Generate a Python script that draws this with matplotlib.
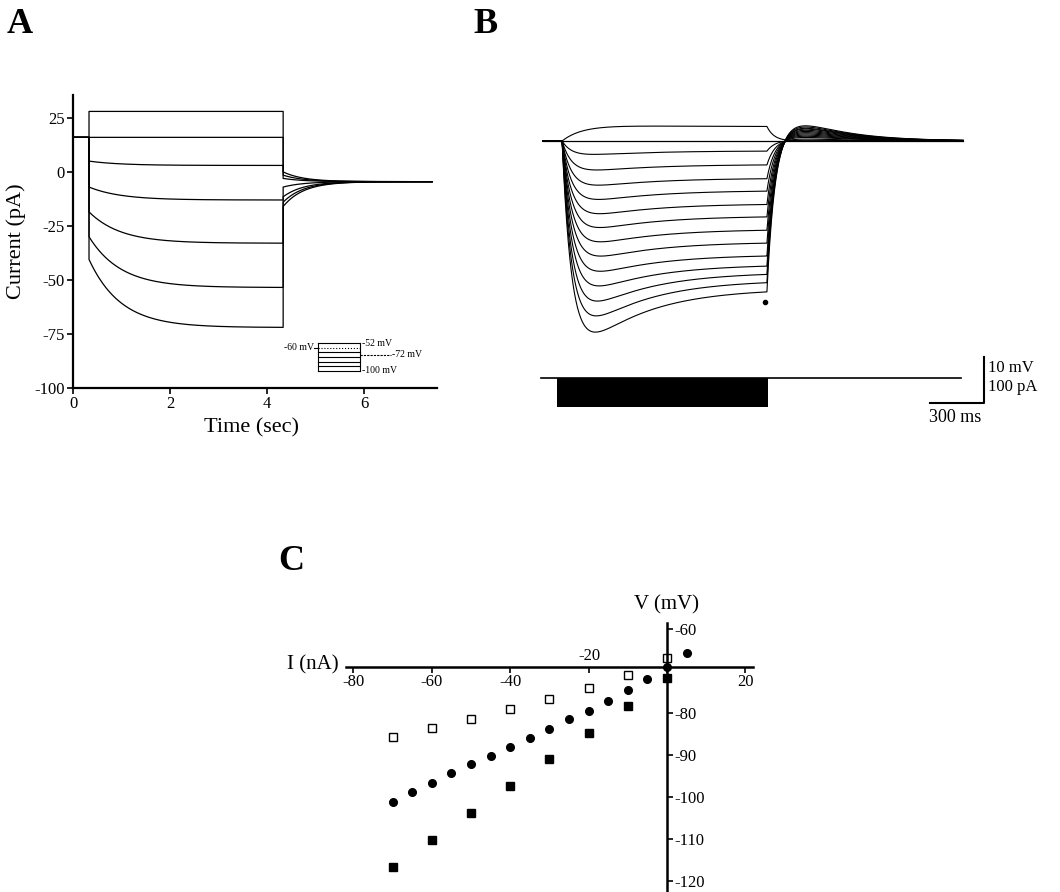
import numpy as np
import matplotlib.pyplot as plt

plt.rcParams['font.family'] = ['Liberation Serif', 'DejaVu Serif']
plt.rcParams['axes.unicode_minus'] = False

W, H = 1060, 892

# ---- panel A: current traces (pA) during voltage steps
a_t_on, a_t_off, a_t_end = 0.33, 4.33, 7.4  # sec
a_hold = 16
a_step_start = [28, 16, 5, -7, -18.5, -30, -40.5]
a_step_end = [28, 16, 3, -13, -33, -53.5, -72]
a_tail_start = [0, -1.5, -3, -7, -11.5, -14, -16]
a_tail_end = -4.5
a_protocol_mV = [-52, -60, -68, -76, -84, -92, -100]

# ---- panel B: voltage responses (mV, relative to rest)
b_t_on, b_t_off, b_t_end = 95, 1233, 2324  # ms
b_dep_plateau = 3.5
b_min = [-2.9, -6.3, -9.6, -12.7, -15.8, -18.8, -21.9, -25.0, -28.3, -31.5, -34.8, -38.0, -41.5]
b_end = [-2.2, -5.2, -8.2, -10.9, -13.8, -16.5, -19.4, -22.2, -25.0, -27.2, -29.0, -30.8, -32.8]
b_rebound = [0.2, 0.5, 0.9, 1.2, 1.5, 1.8, 2.1, 2.4, 2.7, 3.0, 3.2, 3.5, 3.8]
b_stim_pA = [0, -5, -9, -14, -18, -23, -27, -32, -36, -41, -45, -50, -54, -59, -63]
b_dot = (1223, -35.0)

# ---- panel C: I-V relations
c_open_v = [-70, -60, -50, -40, -30, -20, -10, 0]
c_open_i = [-85.7, -83.6, -81.4, -79.0, -76.7, -74.0, -71.0, -66.9]
c_circ_v = [-70, -65, -60, -55, -50, -45, -40, -35, -30, -25, -20, -15, -10, -5, 0, 5]
c_circ_i = [-101.2, -98.8, -96.7, -94.3, -92.1, -90.2, -88.1, -86.0, -83.8, -81.4,
            -79.5, -77.1, -74.5, -71.9, -69.0, -65.7]
c_fill_v = [-70, -60, -50, -40, -30, -20, -10, 0]
c_fill_i = [-116.7, -110.2, -103.8, -97.4, -91.0, -84.8, -78.3, -71.7]


fig = plt.figure(figsize=(W / 100, H / 100), dpi=100)


def px_axes(left, top, right, bottom):
    return fig.add_axes([left / W, 1 - bottom / H, (right - left) / W, (bottom - top) / H])


# ================= A =================
axA = px_axes(73, 95, 437, 388)
t1 = np.linspace(a_t_on, a_t_off, 300)
t2 = np.linspace(a_t_off, a_t_end, 300)
for s0, s1, tail0 in zip(a_step_start, a_step_end, a_tail_start):
    y1 = s1 + (s0 - s1) * np.exp(-(t1 - a_t_on) / 0.65)
    y2 = a_tail_end + (tail0 - a_tail_end) * np.exp(-(t2 - a_t_off) / 0.42)
    x = np.concatenate([[0, a_t_on], t1, t2])
    y = np.concatenate([[a_hold, a_hold], y1, y2])
    axA.plot(x, y, color='black', lw=0.9)

axA.set_xlim(0, 7.5)
axA.set_ylim(-100, 35.6)
axA.set_xticks([0, 2, 4, 6])
axA.set_yticks([-100, -75, -50, -25, 0, 25])
for side in ['top', 'right']:
    axA.spines[side].set_visible(False)
for side in ['left', 'bottom']:
    axA.spines[side].set_linewidth(1.6)
axA.tick_params(direction='out', length=4, width=1.2, labelsize=12, pad=2)

# protocol inset
x_l, x_r = 5.05, 5.92


def prot_y(v):
    return -79.2 + (v + 52) / 48 * 12.9


for v in a_protocol_mV:
    axA.plot([x_l, x_r], [prot_y(v), prot_y(v)], color='black', lw=0.8,
             ls=':' if v == -60 else '-')
axA.plot([x_l, x_l], [prot_y(-52), prot_y(-100)], color='black', lw=0.8)
axA.plot([x_r, x_r], [prot_y(-52), prot_y(-100)], color='black', lw=0.8)
axA.plot([x_l - 0.08, x_l], [prot_y(-60), prot_y(-60)], color='black', lw=0.8)
axA.plot([x_r, 6.55], [prot_y(-72), prot_y(-72)], color='black', lw=0.8, ls=(0, (2, 1)))
axA.text(x_l - 0.08, prot_y(-60), '-60 mV', fontsize=7, ha='right', va='center')
axA.text(x_r + 0.04, prot_y(-52), '-52 mV', fontsize=7, ha='left', va='center')
axA.text(6.58, prot_y(-72), '-72 mV', fontsize=7, ha='left', va='center')
axA.text(x_r + 0.04, prot_y(-100), '-100 mV', fontsize=7, ha='left', va='center')

fig.text(16 / W, 1 - 241 / H, 'Current (pA)', rotation=90, ha='center', va='center', fontsize=16)
fig.text(252 / W, 1 - 428 / H, 'Time (sec)', ha='center', va='center', fontsize=16)

# ================= B =================
axB = px_axes(540, 100, 1060, 440)
axB.set_xlim((540 - 545) * 5.556, (1060 - 545) * 5.556)
axB.set_ylim(-(440 - 141) / 4.6, (141 - 100) / 4.6)
axB.axis('off')

tau_m, tau_h, s_min = 55.0, 350.0, 200.0
dur = b_t_off - b_t_on
s_on = np.linspace(0, dur, 400)
s_off = np.linspace(0, b_t_end - b_t_off, 400)

# rest trace
axB.plot([-11, b_t_end], [0, 0], color='black', lw=0.9)

# depolarizing trace
y_on = b_dep_plateau * (1 - np.exp(-s_on / 110.0)) - 0.4 * (1 - np.exp(-s_on / 600.0))
y_off = y_on[-1] * np.exp(-s_off / 40.0)
axB.plot(np.concatenate([[-11, b_t_on], b_t_on + s_on, b_t_off + s_off]),
         np.concatenate([[0, 0], y_on, y_off]), color='black', lw=0.8)

# hyperpolarizing traces with sag and rebound
M = np.array([[1 - np.exp(-s_min / tau_m), 1 - np.exp(-s_min / tau_h)],
              [1 - np.exp(-dur / tau_m), 1 - np.exp(-dur / tau_h)]])
tr, td = 100.0, 250.0
g = np.exp(-s_off / td) - np.exp(-s_off / tr)
g = g / g.max()
for vmin, vend, reb in zip(b_min, b_end, b_rebound):
    A, B = np.linalg.solve(M, [vmin, vend])
    y_on = A * (1 - np.exp(-s_on / tau_m)) + B * (1 - np.exp(-s_on / tau_h))
    y_off = y_on[-1] * np.exp(-s_off / 45.0) + reb * g
    axB.plot(np.concatenate([[-11, b_t_on], b_t_on + s_on, b_t_off + s_off]),
             np.concatenate([[0, 0], y_on, y_off]), color='black', lw=0.8)

axB.plot(*b_dot, 'o', color='black', ms=3)

# current stimulus
stim_base = -51.5
stim_scale = 0.1  # mV-units per pA (100 pA bar = 10 mV bar)
axB.plot([-22, 2313], [stim_base, stim_base], color='black', lw=1.2)
axB.fill_between([67, b_t_off + 7], stim_base + stim_scale * max(b_stim_pA),
                 stim_base + stim_scale * min(b_stim_pA), color='black', lw=0)

# scale bars
axB.plot([2441, 2441, 2141], [-47, -57, -57], color='black', lw=1.5)
axB.text(2463, -49.3, '10 mV', fontsize=12, ha='left', va='center')
axB.text(2463, -53.5, '100 pA', fontsize=12, ha='left', va='center')
axB.text(2280, -60.2, '300 ms', fontsize=13, ha='center', va='center')

# ================= C =================
axC = px_axes(270, 590, 790, 892)
axC.set_xlim((270 - 667) / 3.92, (790 - 667) / 3.92)
axC.set_ylim(-60 - (892 - 629) / 4.2, -60 + (629 - 590) / 4.2)

axC.plot(c_open_v, c_open_i, 's', mfc='white', mec='black', mew=1.0, ms=5.5, clip_on=False)
axC.plot(c_circ_v, c_circ_i, 'o', color='black', ms=5.5, clip_on=False)
axC.plot(c_fill_v, c_fill_i, 's', color='black', ms=5.5, clip_on=False)

axC.spines['left'].set_visible(False)
axC.spines['top'].set_visible(False)
axC.spines['right'].set_position(('data', 0))
axC.spines['bottom'].set_position(('data', -69))
axC.spines['right'].set_bounds(-123, -58.5)
axC.spines['bottom'].set_bounds(-82, 22)
axC.spines['right'].set_linewidth(1.8)
axC.spines['bottom'].set_linewidth(1.8)
axC.yaxis.set_ticks_position('right')
axC.set_yticks([-60, -80, -90, -100, -110, -120])
axC.set_xticks([-80, -60, -40, -20, 0, 20])
axC.set_xticklabels(['-80', '-60', '-40', '', '', '20'])
axC.tick_params(direction='out', length=4, width=1.2, labelsize=12, pad=1)
axC.text(-19.9, -66.4, '-20', fontsize=12, ha='center', va='center')
axC.text(0, -54.3, 'V (mV)', fontsize=15, ha='center', va='center')
axC.text(-90.3, -68.6, 'I (nA)', fontsize=15, ha='center', va='center', clip_on=False)

# panel letters
for letter, x, y in [('A', 7, 8), ('B', 473, 8), ('C', 278, 545)]:
    fig.text(x / W, 1 - y / H, letter, fontsize=26, fontweight='bold', ha='left', va='top')

fig.savefig('out.png', dpi=100)
